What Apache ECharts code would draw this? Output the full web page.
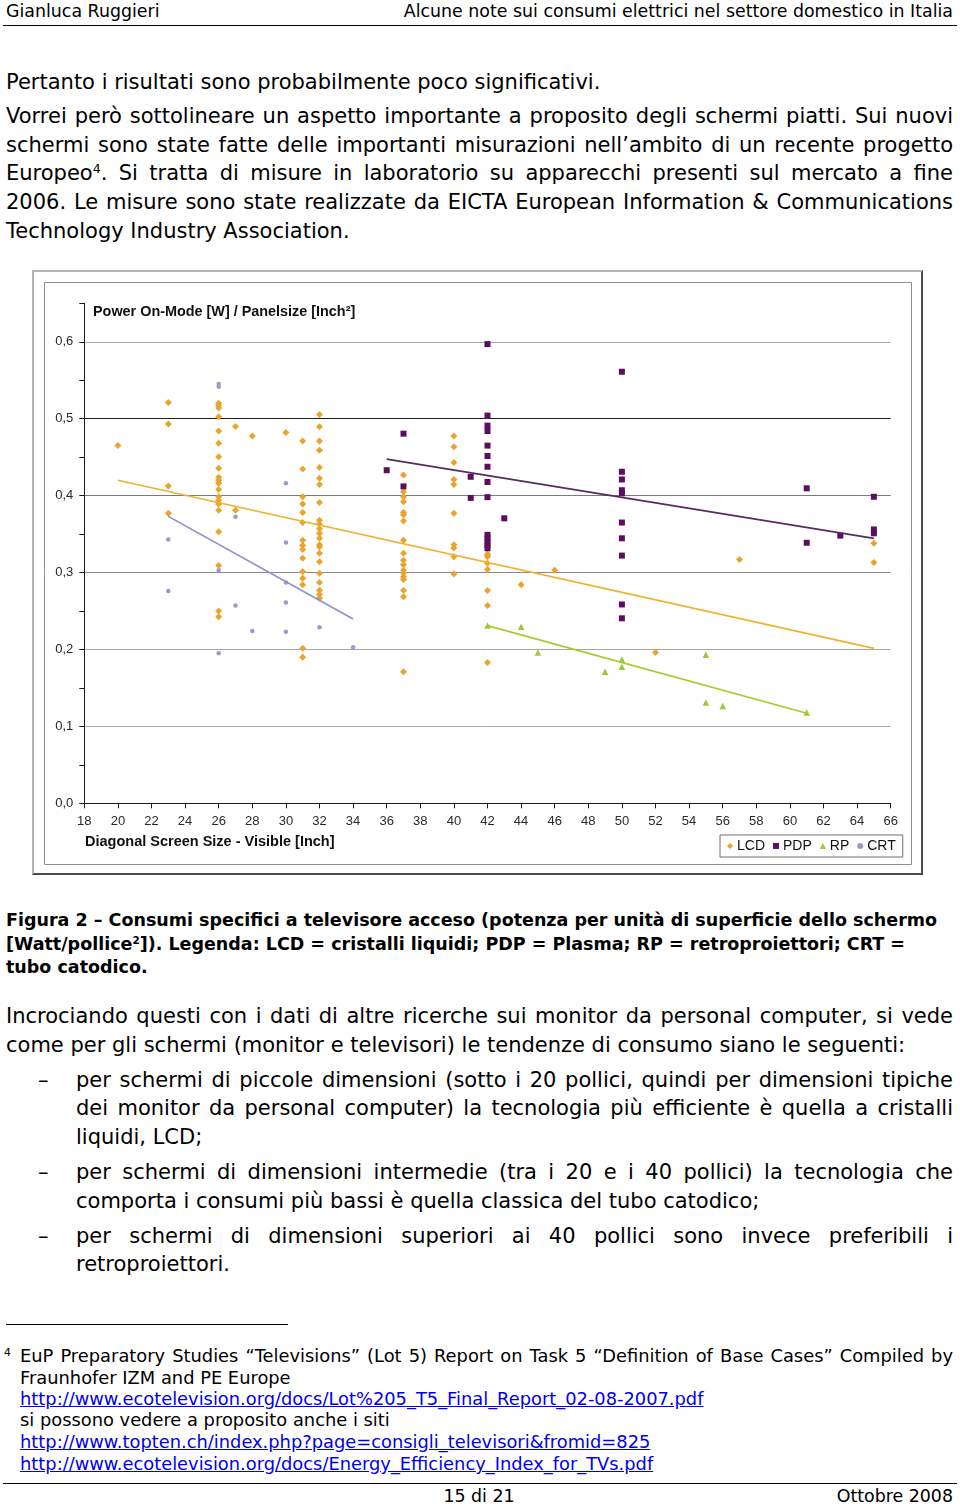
<!DOCTYPE html>
<html><head><meta charset="utf-8">
<script src="https://cdn.jsdelivr.net/npm/echarts@6/dist/echarts.min.js"></script>
<style>
html,body{margin:0;padding:0;background:#fff;}
body{width:960px;height:1504px;position:relative;overflow:hidden;font-family:'DejaVu Sans',Verdana,sans-serif;color:#000;}
.ln{position:absolute;white-space:nowrap;}
.hd{font-size:17.4px;line-height:22px;top:0px;}
.b{font-size:21px;line-height:28px;height:28px;left:6px;width:947px;}
.cap{font-size:17.5px;font-weight:bold;line-height:24px;height:24px;left:6px;width:947px;}
.bl{left:76px;width:877px;}
.fn{font-size:17.85px;line-height:21px;height:21px;left:20px;width:933px;}
.j{text-align:justify;text-align-last:justify;white-space:normal;overflow:hidden;}
a{color:#0000ee;text-decoration:underline;}
sup{font-size:60%;line-height:0;vertical-align:0.55em;}
.rule{position:absolute;background:#000;height:1px;}
#frame{position:absolute;left:32px;top:270px;width:887px;height:601px;border:2px solid;border-color:#b4b4b4 #4a4a4a #4a4a4a #b4b4b4;}
#chart{position:absolute;left:0;top:0;width:887px;height:601px;}
</style></head>
<body>
<div class="ln hd" style="left:6px;">Gianluca Ruggieri</div>
<div class="ln hd" style="right:7px;">Alcune note sui consumi elettrici nel settore domestico in Italia</div>
<div class="rule" style="left:3px;width:954px;top:25px;"></div>

<div class="ln b" style="top:68px;">Pertanto i risultati sono probabilmente poco significativi.</div>
<div class="ln b j" style="top:102px;">Vorrei però sottolineare un aspetto importante a proposito degli schermi piatti. Sui nuovi</div>
<div class="ln b j" style="top:131px;">schermi sono state fatte delle importanti misurazioni nell’ambito di un recente progetto</div>
<div class="ln b j" style="top:159px;">Europeo<sup>4</sup>. Si tratta di misure in laboratorio su apparecchi presenti sul mercato a fine</div>
<div class="ln b j" style="top:188px;">2006. Le misure sono state realizzate da EICTA European Information &amp; Communications</div>
<div class="ln b" style="top:217px;">Technology Industry Association.</div>

<div id="frame"><div id="chart"></div></div>

<div class="ln cap" style="top:908px;">Figura 2 – Consumi specifici a televisore acceso (potenza per unità di superficie dello schermo</div>
<div class="ln cap" style="top:932px;">[Watt/pollice<sup>2</sup>]). Legenda: LCD = cristalli liquidi; PDP = Plasma; RP = retroproiettori; CRT =</div>
<div class="ln cap" style="top:955px;">tubo catodico.</div>

<div class="ln b j" style="top:1002px;">Incrociando questi con i dati di altre ricerche sui monitor da personal computer, si vede</div>
<div class="ln b" style="top:1031px;">come per gli schermi (monitor e televisori) le tendenze di consumo siano le seguenti:</div>
<div class="ln b" style="top:1066px;left:38px;width:30px;">–</div>
<div class="ln b bl j" style="top:1066px;">per schermi di piccole dimensioni (sotto i 20 pollici, quindi per dimensioni tipiche</div>
<div class="ln b bl j" style="top:1094px;">dei monitor da personal computer) la tecnologia più efficiente è quella a cristalli</div>
<div class="ln b bl" style="top:1123px;">liquidi, LCD;</div>
<div class="ln b" style="top:1158px;left:38px;width:30px;">–</div>
<div class="ln b bl j" style="top:1158px;">per schermi di dimensioni intermedie (tra i 20 e i 40 pollici) la tecnologia che</div>
<div class="ln b bl" style="top:1187px;">comporta i consumi più bassi è quella classica del tubo catodico;</div>
<div class="ln b" style="top:1222px;left:38px;width:30px;">–</div>
<div class="ln b bl j" style="top:1222px;">per schermi di dimensioni superiori ai 40 pollici sono invece preferibili i</div>
<div class="ln b bl" style="top:1250px;">retroproiettori.</div>

<div class="rule" style="left:6px;width:282px;top:1324px;"></div>
<div class="ln fn" style="top:1345px;left:4px;width:14px;"><sup>4</sup></div>
<div class="ln fn j" style="top:1345px;">EuP Preparatory Studies “Televisions” (Lot 5) Report on Task 5 “Definition of Base Cases” Compiled by</div>
<div class="ln fn" style="top:1367px;">Fraunhofer IZM and PE Europe</div>
<div class="ln fn" style="top:1388px;"><a>http://www.ecotelevision.org/docs/Lot%205_T5_Final_Report_02-08-2007.pdf</a></div>
<div class="ln fn" style="top:1409px;">si possono vedere a proposito anche i siti</div>
<div class="ln fn" style="top:1431px;"><a>http://www.topten.ch/index.php?page=consigli_televisori&amp;fromid=825</a></div>
<div class="ln fn" style="top:1453px;"><a>http://www.ecotelevision.org/docs/Energy_Efficiency_Index_for_TVs.pdf</a></div>

<div class="rule" style="left:3px;width:954px;top:1483px;"></div>
<div class="ln hd" style="top:1485px;left:0;width:958px;text-align:center;">15 di 21</div>
<div class="ln hd" style="top:1485px;right:7px;">Ottobre 2008</div>

<script>
// ---- data ----
const seriesNames = ['LCD', 'PDP', 'RP', 'CRT'];
const chartTitle = 'Power On-Mode [W] / Panelsize [Inch²]';
const xAxisTitle = 'Diagonal Screen Size - Visible [Inch]';

const lcdPoints = [
  [20,0.465],
  [23,0.521],[23,0.493],[23,0.4125],[23,0.377],
  [26,0.52],[26,0.517],[26,0.514],[26,0.5025],[26,0.484],[26,0.468],[26,0.4505],[26,0.4355],[26,0.424],[26,0.42],[26,0.416],[26,0.408],[26,0.3985],[26,0.394],[26,0.389],[26,0.381],[26,0.353],[26,0.309],[26,0.25],[26,0.2425],
  [27,0.49],[27,0.381],
  [28,0.4775],
  [30,0.482],
  [31,0.471],[31,0.4345],[31,0.3985],[31,0.389],[31,0.378],[31,0.365],[31,0.342],[31,0.335],[31,0.33],[31,0.3185],[31,0.301],[31,0.2925],[31,0.284],[31,0.2015],[31,0.19],
  [32,0.5055],[32,0.4895],[32,0.471],[32,0.459],[32,0.4365],[32,0.4225],[32,0.4145],[32,0.391],[32,0.368],[32,0.363],[32,0.357],[32,0.351],[32,0.3445],[32,0.336],[32,0.3335],[32,0.325],[32,0.314],[32,0.299],[32,0.287],[32,0.277],[32,0.2715],[32,0.2665],
  [37,0.4268],[37,0.405],[37,0.3985],[37,0.392],[37,0.378],[37,0.375],[37,0.367],[37,0.342],[37,0.325],[37,0.316],[37,0.31],[37,0.303],[37,0.2995],[37,0.2945],[37,0.291],[37,0.2765],[37,0.2685],[37,0.171],
  [40,0.4775],[40,0.4635],[40,0.443],[40,0.421],[40,0.4145],[40,0.377],[40,0.336],[40,0.332],[40,0.3205],[40,0.298],
  [42,0.3227],[42,0.324],[42,0.3205],[42,0.312],[42,0.304],[42,0.2765],[42,0.257],[42,0.183],
  [44,0.284],[46,0.303],[52,0.196],[57,0.317],[65,0.338],[65,0.313]
];
const pdpPoints = [
  [36,0.433],
  [37,0.4805],[37,0.412],
  [41,0.4245],[41,0.397],
  [42,0.597],[42,0.504],[42,0.491],[42,0.484],[42,0.465],[42,0.4515],[42,0.4375],[42,0.4177],[42,0.398],[42,0.349],[42,0.345],[42,0.34],[42,0.3355],[42,0.3315],
  [43,0.3705],
  [50,0.561],[50,0.431],[50,0.421],[50,0.407],[50,0.403],[50,0.365],[50,0.3445],[50,0.322],[50,0.2585],[50,0.2405],
  [61,0.4095],[61,0.3387],
  [63,0.348],
  [65,0.3985],[65,0.356],[65,0.351]
];
const rpPoints = [
  [42,0.231],[44,0.2295],[45,0.196],[49,0.171],[50,0.187],[50,0.1775],[55,0.193],[55,0.131],[56,0.1265],[61,0.118]
];
const crtPoints = [
  [23,0.343],[23,0.276],[26,0.5415],[26,0.545],[26,0.303],[26,0.195],[27,0.3725],[27,0.257],[28,0.224],
  [30,0.416],[30,0.339],[30,0.287],[30,0.261],[30,0.223],[32,0.229],[34,0.203]
];
// linear trend lines (end points)
const lcdTrend = [[20,0.42],[65,0.2015]];
const pdpTrend = [[36,0.4475],[65,0.3445]];
const rpTrend  = [[42,0.231],[61,0.117]];
const crtTrend = [[23,0.373],[34,0.2395]];

// ---- styles ----
const colors = {LCD:'#E9A42E', PDP:'#5C0F5E', RP:'#9CC83A', CRT:'#9A9ACB'};
const lineColors = {LCD:'#F0B22E', PDP:'#5A2A62', RP:'#A3CC2E', CRT:'#8E8ECC'};
// split line colours cycle per 0.05 tick: only 0.1 multiples get a visible line
const gridColors = ['rgba(0,0,0,0)','rgba(0,0,0,0)','#ababab','rgba(0,0,0,0)','#a6a6a6','rgba(0,0,0,0)','#8a8a8a','rgba(0,0,0,0)','#7a7a7a','rgba(0,0,0,0)','#1e1e1e','rgba(0,0,0,0)','#a8a8a8','rgba(0,0,0,0)'];

const chart = echarts.init(document.getElementById('chart'), null, {renderer:'canvas'});
const font = '"Liberation Sans", Arial, sans-serif';

function scatter(name, data, symbol, size) {
  return {name, type:'scatter', data, symbol, symbolSize:size, itemStyle:{color:colors[name], opacity:1}, animation:false, z:3};
}
function trend(name, data) {
  return {name: name + ' trend', type:'line', data, showSymbol:false, symbol:'none', lineStyle:{color:lineColors[name], width:1.7}, animation:false, z:4, silent:true};
}

chart.setOption({
  backgroundColor:'#fff',
  animation:false,
  grid:{left:50.3, top:31.3, width:806.4, height:500, containLabel:false},
  xAxis:{type:'value', min:18, max:66, interval:2,
    axisLine:{show:true, onZero:false, lineStyle:{color:'#1a1a1a', width:1}},
    axisTick:{show:true, inside:false, length:5, lineStyle:{color:'#1a1a1a'}},
    axisLabel:{color:'#2a2a2a', fontSize:13, fontFamily:font, margin:12},
    splitLine:{show:false}},
  yAxis:{type:'value', min:0, max:0.65, interval:0.05,
    axisLine:{show:true, onZero:false, lineStyle:{color:'#1a1a1a', width:1}},
    axisTick:{show:true, inside:false, length:5, lineStyle:{color:'#1a1a1a'}},
    axisLabel:{color:'#2a2a2a', fontSize:13, fontFamily:font, margin:11,
      formatter:v => (Math.round(v*100) % 10 === 0 ? v.toFixed(1).replace('.', ',') : '')},
    splitLine:{show:true, lineStyle:{color:gridColors, width:1}}},
  legend:{data:seriesNames, left:686, top:563, orient:'horizontal', itemWidth:6, itemHeight:6, itemGap:8,
    padding:[4,7,4,7], borderColor:'#6e6e6e', borderWidth:1, backgroundColor:'#fff',
    textStyle:{fontSize:14, color:'#111', fontFamily:font, padding:[0,0,0,-1]}},
  graphic:[
    {type:'rect', shape:{x:10.5, y:10.5, width:867, height:582}, style:{fill:'none', stroke:'#8f8f8f', lineWidth:1}, silent:true, z:-1},
    {type:'text', x:59, y:40, style:{text:chartTitle, font:'bold 14.4px ' + font, fill:'#111', verticalAlign:'middle'}},
    {type:'text', x:51, y:570, style:{text:xAxisTitle, font:'bold 14.5px ' + font, fill:'#111', verticalAlign:'middle'}}
  ],
  series:[
    scatter('LCD', lcdPoints, 'diamond', 7),
    scatter('PDP', pdpPoints, 'rect', 6),
    scatter('RP', rpPoints, 'triangle', 6.5),
    scatter('CRT', crtPoints, 'circle', 4.5),
    trend('LCD', lcdTrend),
    trend('PDP', pdpTrend),
    trend('RP', rpTrend),
    trend('CRT', crtTrend)
  ]
});

// keep each justified line on a single line
document.querySelectorAll('.j').forEach(el => {
  let fs = parseFloat(getComputedStyle(el).fontSize);
  let guard = 0;
  while (el.scrollHeight > el.clientHeight + 2 && guard < 40) { fs -= 0.2; el.style.fontSize = fs + 'px'; guard++; }
});
</script>
</body></html>
